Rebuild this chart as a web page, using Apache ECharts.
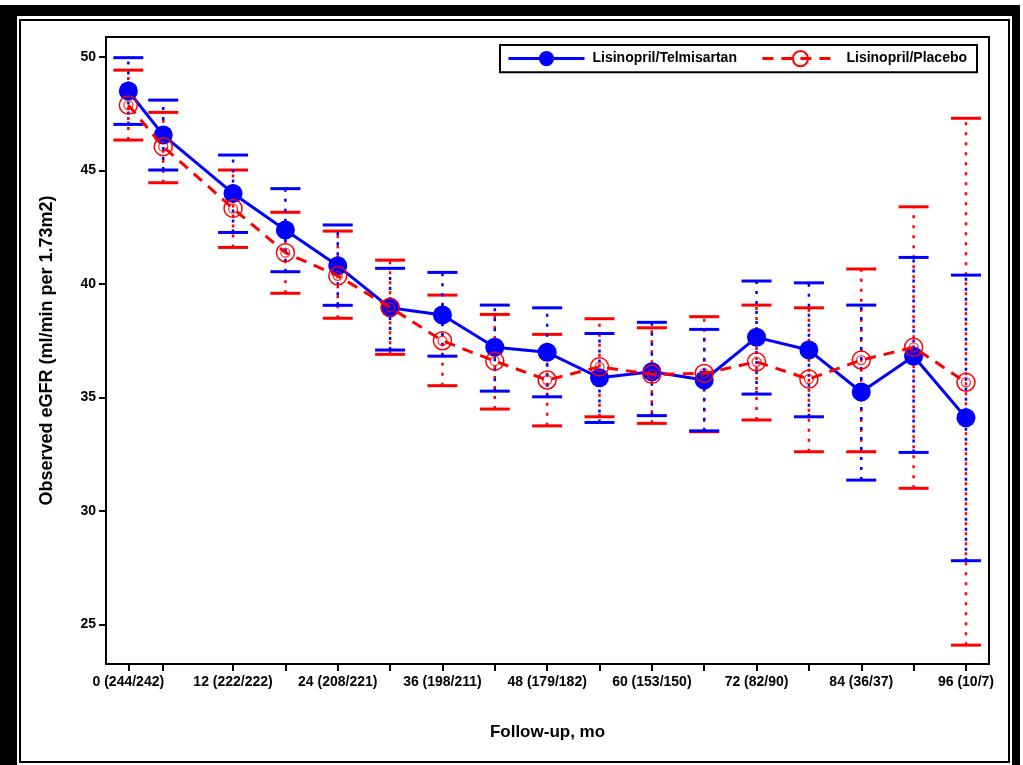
<!DOCTYPE html>
<html>
<head>
<meta charset="utf-8">
<script src="https://cdn.jsdelivr.net/npm/echarts@6/dist/echarts.min.js"></script>
<style>
html,body{margin:0;padding:0;background:#fff;}
#chart{width:1023px;height:765px;}
</style>
</head>
<body>
<div id="chart"></div>
<script>
// Follow-up months at which values were observed
const months = [0, 4, 12, 18, 24, 30, 36, 42, 48, 54, 60, 66, 72, 78, 84, 90, 96];
// Tick labels (months with n per group)
const labelMonths = [0, 12, 24, 36, 48, 60, 72, 84, 96];
const tickLabels = ['0 (244/242)', '12 (222/222)', '24 (208/221)', '36 (198/211)', '48 (179/182)', '60 (153/150)', '72 (82/90)', '84 (36/37)', '96 (10/7)'];
const yTicks = [25, 30, 35, 40, 45, 50];

// Lisinopril/Telmisartan
const telMean = [48.49, 46.55, 43.98, 42.37, 40.79, 38.94, 38.62, 37.20, 36.98, 35.86, 36.12, 35.76, 37.64, 37.08, 35.23, 36.81, 34.10];
const telLow  = [47.02, 45.01, 42.26, 40.53, 39.05, 37.08, 36.81, 35.27, 35.02, 33.89, 34.19, 33.52, 35.14, 34.14, 31.35, 32.57, 27.80];
const telHigh = [49.96, 48.09, 45.67, 44.19, 42.59, 40.68, 40.50, 39.06, 38.94, 37.81, 38.30, 37.99, 40.12, 40.04, 39.06, 41.16, 40.38];

// Lisinopril/Placebo
const plaMean = [47.87, 46.04, 43.32, 41.37, 40.35, 38.96, 37.49, 36.59, 35.76, 36.34, 36.01, 36.05, 36.56, 35.80, 36.64, 37.20, 35.66];
const plaLow  = [46.33, 44.45, 41.60, 39.58, 38.48, 36.89, 35.51, 34.48, 33.74, 34.14, 33.85, 33.48, 34.00, 32.60, 32.60, 30.99, 24.08];
const plaHigh = [49.41, 47.55, 45.01, 43.15, 42.32, 41.04, 39.50, 38.65, 37.77, 38.46, 38.06, 38.55, 39.06, 38.94, 40.65, 43.39, 47.29];

const BLUE = '#0000ff';
const RED = '#ff0000';
const FONT = '"Liberation Sans", Arial, sans-serif';

function errRender(color) {
  return function (params, api) {
    const x = api.value(0), lo = api.value(1), hi = api.value(2);
    const pLo = api.coord([x, lo]);
    const pHi = api.coord([x, hi]);
    const hw = 15;
    return {
      type: 'group',
      children: [
        { type: 'line', shape: { x1: pLo[0], y1: pLo[1], x2: pHi[0], y2: pHi[1] },
          style: { stroke: color, lineWidth: 2.5, lineDash: [3, 7] } },
        { type: 'line', shape: { x1: pLo[0] - hw, y1: pLo[1], x2: pLo[0] + hw, y2: pLo[1] },
          style: { stroke: color, lineWidth: 3 } },
        { type: 'line', shape: { x1: pHi[0] - hw, y1: pHi[1], x2: pHi[0] + hw, y2: pHi[1] },
          style: { stroke: color, lineWidth: 3 } }
      ]
    };
  };
}

const chart = echarts.init(document.getElementById('chart'), null, { renderer: 'canvas' });
chart.setOption({
  backgroundColor: '#fff',
  animation: false,
  textStyle: { fontFamily: FONT },
  graphic: [
    { type: 'rect', shape: { x: 0, y: 5, width: 17, height: 760 }, style: { fill: '#000' } },
    { type: 'rect', shape: { x: 0, y: 5, width: 1020, height: 11 }, style: { fill: '#000' } },
    { type: 'rect', shape: { x: 1012, y: 5, width: 8, height: 760 }, style: { fill: '#000' } },
    { type: 'rect', shape: { x: 20, y: 20, width: 989, height: 742 }, style: { fill: 'none', stroke: '#000', lineWidth: 2 } }
  ],
  grid: { left: 106, right: 34, top: 37, bottom: 101, show: true, borderColor: '#000', borderWidth: 2, backgroundColor: 'transparent' },
  legend: {
    left: 500, top: 45,
    data: ['Lisinopril/Telmisartan', 'Lisinopril/Placebo'],
    borderColor: '#000', borderWidth: 2, borderRadius: 0,
    padding: [5, 10, 5, 7],
    itemWidth: 76, itemHeight: 19, itemGap: 24,
    lineStyle: { width: 3 },
    textStyle: { fontFamily: FONT, fontSize: 14, fontWeight: 'bold', color: '#000', padding: [0, 0, 0, 3] }
  },
  xAxis: {
    type: 'value', min: -2.56, max: 98.64,
    name: 'Follow-up, mo', nameLocation: 'middle', nameGap: 60,
    nameTextStyle: { fontFamily: FONT, fontSize: 17, fontWeight: 'bold', color: '#000' },
    axisLine: { show: true, onZero: false, lineStyle: { color: '#000', width: 2 } },
    axisTick: { show: true, length: 7, lineStyle: { color: '#000', width: 2 }, customValues: months },
    axisLabel: {
      customValues: labelMonths, margin: 11,
      fontFamily: FONT, fontSize: 14, fontWeight: 'bold', color: '#000',
      formatter: function (v) { const i = labelMonths.indexOf(Math.round(v)); return i >= 0 ? tickLabels[i] : ''; }
    },
    splitLine: { show: false }
  },
  yAxis: {
    type: 'value', min: 23.25, max: 50.87,
    name: 'Observed eGFR (ml/min per 1.73m2)', nameLocation: 'middle', nameGap: 50,
    nameTextStyle: { fontFamily: FONT, fontSize: 18, fontWeight: 'bold', color: '#000' },
    axisLine: { show: true, onZero: false, lineStyle: { color: '#000', width: 2 } },
    axisTick: { show: true, length: 7, lineStyle: { color: '#000', width: 2 }, customValues: yTicks },
    axisLabel: { customValues: yTicks, margin: 10, fontFamily: FONT, fontSize: 14, fontWeight: 'bold', color: '#000' },
    splitLine: { show: false }
  },
  series: [
    {
      name: 'errPlacebo', type: 'custom', z: 1,
      renderItem: errRender(RED),
      encode: { x: 0, y: [1, 2] },
      data: months.map((m, i) => [m, plaLow[i], plaHigh[i]]),
      silent: true
    },
    {
      name: 'errTelmisartan', type: 'custom', z: 1,
      renderItem: errRender(BLUE),
      encode: { x: 0, y: [1, 2] },
      data: months.map((m, i) => [m, telLow[i], telHigh[i]]),
      silent: true
    },
    {
      name: 'Lisinopril/Telmisartan', type: 'line', z: 3,
      data: months.map((m, i) => [m, telMean[i]]),
      symbol: 'circle', symbolSize: 19,
      lineStyle: { color: BLUE, width: 3 },
      itemStyle: { color: BLUE, borderWidth: 0 }
    },
    {
      name: 'Lisinopril/Placebo', type: 'line', z: 4,
      data: months.map((m, i) => [m, plaMean[i]]),
      symbol: 'circle', symbolSize: 18,
      lineStyle: { color: RED, width: 3, type: [11, 8] },
      itemStyle: { color: 'rgba(255,255,255,0)', borderColor: RED, borderWidth: 1.5 }
    },
    {
      name: 'inner', type: 'scatter', z: 5,
      data: months.map((m, i) => [m, plaMean[i]]),
      symbol: 'circle', symbolSize: 9,
      itemStyle: { color: 'rgba(255,255,255,0)', borderColor: RED, borderWidth: 1.3 },
      silent: true
    }
  ]
});
</script>
</body>
</html>
